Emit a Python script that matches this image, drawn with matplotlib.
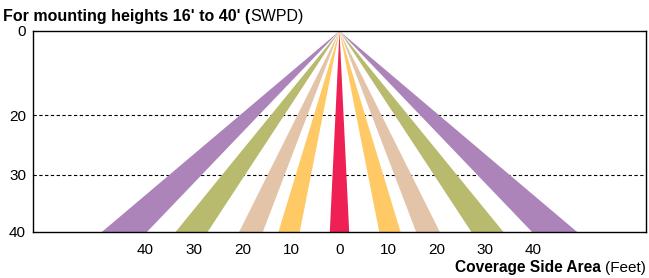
import numpy as np
import matplotlib.pyplot as plt
from matplotlib.patches import Polygon
from matplotlib.scale import FuncScale

plt.rcParams['font.family'] = ['Liberation Sans', 'DejaVu Sans']

# coverage bands (feet either side of centre) at a 40' mounting height
band_inner = [39.7, 27.2, 15.8, 8.2, -2.0]
band_outer = [49.0, 33.8, 20.7, 12.6, 2.0]
band_colors = ["#AC84BA", "#B8BA6E", "#E3C4A8", "#FFC966", "#EE2054"]
max_height = 40

y_ticks = [0, 20, 30, 40]
x_ticks = [-40, -30, -20, -10, 0, 10, 20, 30, 40]
grid_heights = [20, 30]

# the drawing spaces the height axis unevenly
y_data = [0, 20, 30, 40]
y_pos = [0, 84, 143, 200]


def fwd(v):
    return np.interp(v, y_data, y_pos)


def inv(v):
    return np.interp(v, y_pos, y_data)


fig = plt.figure(figsize=(6.49, 2.78), dpi=100)
ax = fig.add_axes([0.0508, 0.1655, 0.9446, 0.7230])
ax.set_yscale(FuncScale(ax.yaxis, (fwd, inv)))

for inner, outer, c in zip(band_inner, band_outer, band_colors):
    if inner < 0:
        # centre band
        ax.add_patch(Polygon([(0, 0), (inner, max_height), (outer, max_height)],
                             closed=True, facecolor=c, edgecolor="none"))
        continue
    for s in (-1, 1):
        ax.add_patch(Polygon([(0, 0), (s * inner, max_height), (s * outer, max_height)],
                             closed=True, facecolor=c, edgecolor="none"))

for h in grid_heights:
    ax.axhline(h, color="black", lw=0.8, dashes=(3, 2.2), zorder=0.5)

ax.set_xlim(-63.2, 63.2)
ax.set_ylim(max_height, 0)
ax.set_yticks(y_ticks)
ax.set_yticklabels([str(t) for t in y_ticks], fontsize=11)
ax.set_xticks(x_ticks)
ax.set_xticklabels([str(abs(t)) for t in x_ticks], fontsize=11)
ax.tick_params(length=0)
ax.tick_params(axis="x", pad=8)
ax.tick_params(axis="y", pad=5)
for sp in ax.spines.values():
    sp.set_linewidth(1.0)

# title: bold part then plain part
t1 = fig.text(0.005, 0.942, "For mounting heights 16' to 40' (", fontsize=11.5,
              fontweight="bold", ha="left", va="center")
ax.annotate("SWPD)", xy=(1, 0.5), xycoords=t1, fontsize=11.5,
            ha="left", va="center", annotation_clip=False)

# x axis label: plain part right aligned, bold part before it
t2 = fig.text(0.995, 0.036, "(Feet)", fontsize=11, ha="right", va="center")
ax.annotate("Coverage Side Area ", xy=(0, 0.5), xycoords=t2, fontsize=11.2,
            fontweight="bold", ha="right", va="center", annotation_clip=False)

fig.savefig("out.png", dpi=100)
